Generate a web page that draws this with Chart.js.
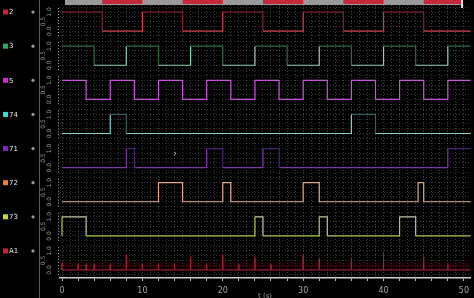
<!DOCTYPE html>
<html>
<head>
<meta charset="utf-8">
<script src="https://cdn.jsdelivr.net/npm/chart.js@4.4.1/dist/chart.umd.min.js"></script>
<style>
  html, body { margin: 0; padding: 0; background: #000; }
  #wrap { width: 474px; height: 298px; }
</style>
</head>
<body>
<div id="wrap"><canvas id="scope"></canvas></div>
<script>
/* ----- channels ----- */
const channelNames = ["2", "3", "5", "74", "71", "72", "73", "A1"];
const squareColors = ["#d8202a", "#20b05c", "#e020e0", "#30dede", "#8a20c8", "#f08020", "#d4d43a", "#d81e28"];
const traceLow = ["#d2404e", "#8fd2b0", "#c458d4", "#86cccc", "#7a3aa6", "#e2aa8a", "#b8c448", "#a82434"];
const traceHigh = ["#7a2230", "#2c6a44", "#c458d4", "#3a6262", "#4a2470", "#e2aa8a", "#c4c4a4", "#a82434"];

/* ----- ticks ----- */
const xTickLabels = [0, 10, 20, 30, 40, 50];
const yTickValues = [0, 0.5, 1];
const yTickLabels = ["0.0", "0.5", "1.0"];

/* ----- waveforms (time, level) ----- */
const ch2Times = [0, 5, 10, 15, 20, 25, 30, 35, 40, 45, 51];
const ch2Levels = [1, 0, 1, 0, 1, 0, 1, 0, 1, 0, 0];

const ch3Times = [0, 4, 8, 12, 16, 20, 24, 28, 32, 36, 40, 44, 48, 51];
const ch3Levels = [1, 0, 1, 0, 1, 0, 1, 0, 1, 0, 1, 0, 1, 1];

const ch5Times = [0, 3, 6, 9, 12, 15, 18, 21, 24, 27, 30, 33, 36, 39, 42, 45, 48, 51];
const ch5Levels = [1, 0, 1, 0, 1, 0, 1, 0, 1, 0, 1, 0, 1, 0, 1, 0, 1, 1];

const ch74Times = [0, 6, 8, 36, 39, 51];
const ch74Levels = [0, 1, 0, 1, 0, 0];

const ch71Times = [0, 8, 9, 18, 20, 25, 27, 48, 51];
const ch71Levels = [0, 1, 0, 1, 0, 1, 0, 1, 1];

const ch72Times = [0, 12, 15, 20, 21, 30, 32, 44.3, 45, 51];
const ch72Levels = [0, 1, 0, 1, 0, 1, 0, 1, 0, 0];

const ch73Times = [0, 0, 3, 24, 25, 32, 33, 42, 44, 51];
const ch73Levels = [0, 1, 0, 1, 0, 1, 0, 1, 0, 0];

const a1Times = [0, 2, 3, 4, 6, 8, 10, 12, 14, 16, 18, 20, 22, 24, 26, 30, 32, 36, 40, 45, 48];
const a1Heights = [0.4, 0.3, 0.3, 0.3, 0.3, 0.8, 0.3, 0.3, 0.3, 0.7, 0.3, 0.8, 0.3, 0.7, 0.3, 0.8, 0.6, 0.6, 0.9, 0.7, 0.3];

const stepTimes = [ch2Times, ch3Times, ch5Times, ch74Times, ch71Times, ch72Times, ch73Times];
const stepLevels = [ch2Levels, ch3Levels, ch5Levels, ch74Levels, ch71Levels, ch72Levels, ch73Levels];

/* ----- datasets ----- */
const datasets = stepTimes.map((times, i) => ({
  data: times.map((t, k) => ({ x: t, y: stepLevels[i][k] })),
  yAxisID: "y" + i,
  stepped: true,
  borderWidth: 1.2,
  pointRadius: 0,
  fill: false,
  borderColor: traceLow[i],
  segment: {
    borderColor: (c) => (c.p0.parsed.y > 0.5 ? traceHigh[i] : traceLow[i]),
  },
}));

const spikeData = [{ x: 0, y: 0 }];
a1Times.forEach((t, k) => {
  spikeData.push({ x: t, y: 0 }, { x: t, y: a1Heights[k] }, { x: t, y: 0 });
});
spikeData.push({ x: 51, y: 0 });

datasets.push({
  data: spikeData,
  yAxisID: "y7",
  borderWidth: 1,
  pointRadius: 0,
  borderColor: traceLow[7],
  fill: { value: 0.4 },
  backgroundColor: "rgba(80, 0, 10, 0.3)",
});

/* ----- scales ----- */
const scales = {
  x: {
    type: "linear",
    min: -0.25,
    max: 50.85,
    afterBuildTicks: (s) => {
      const t = [];
      for (let v = 0; v <= 50; v++) t.push({ value: v });
      s.ticks = t;
    },
    afterFit: (s) => { s.height = 20; },
    ticks: {
      autoSkip: false,
      maxRotation: 0,
      padding: 5,
      color: "#a8a8a8",
      font: { family: "DejaVu Sans", size: 8 },
      callback: (v) => (xTickLabels.includes(v) ? String(v) : ""),
    },
    grid: {
      color: "rgba(150, 150, 150, 0.42)",
      lineWidth: 1,
      tickLength: 3,
      tickColor: (c) => (c.tick && c.tick.value % 2 === 0 ? "#b8b8b8" : "rgba(0,0,0,0)"),
    },
    border: { display: true, color: "#d0d0d0", width: 1.5, dash: [1, 2] },
  },
};

channelNames.forEach((name, i) => {
  scales["y" + i] = {
    type: "linear",
    position: "left",
    stack: "scope",
    stackWeight: 1,
    weight: channelNames.length - i,
    min: -0.42,
    max: 1.37,
    afterBuildTicks: (s) => {
      s.ticks = [-0.25, 0, 0.25, 0.5, 0.75, 1, 1.25].map((v) => ({ value: v }));
    },
    afterFit: (s) => { s.width = 60; },
    ticks: { display: false },
    grid: { color: "rgba(150, 150, 150, 0.35)", drawTicks: false },
    border: { display: false, dash: [1, 2] },
  };
});

/* ----- decorations ----- */
const scopeDecor = {
  id: "scopeDecor",
  beforeDraw(chart) {
    const { ctx, width, height } = chart;
    ctx.save();
    ctx.fillStyle = "#000";
    ctx.fillRect(0, 0, width, height);
    ctx.restore();
  },
  afterDraw(chart) {
    const { ctx } = chart;
    const xs = chart.scales.x;
    ctx.save();

    ctx.strokeStyle = "#5c5c5c";
    ctx.lineWidth = 1;
    ctx.beginPath();
    ctx.moveTo(39.5, 0);
    ctx.lineTo(39.5, chart.height);
    ctx.stroke();

    channelNames.forEach((name, i) => {
      const s = chart.scales["y" + i];
      const yHi = s.getPixelForValue(1);

      ctx.fillStyle = squareColors[i];
      ctx.fillRect(3, yHi - 2.5, 5, 5);
      ctx.fillStyle = "#e6e6e6";
      ctx.font = "7px 'DejaVu Sans'";
      ctx.textAlign = "left";
      ctx.textBaseline = "middle";
      ctx.fillText(name, 9, yHi + 0.5);

      ctx.fillStyle = "#9a9a9a";
      ctx.beginPath();
      ctx.arc(33, yHi, 1.6, 0, Math.PI * 2);
      ctx.fill();

      ctx.fillStyle = "#9c9c9c";
      ctx.font = "6px 'DejaVu Sans'";
      ctx.textAlign = "center";
      yTickValues.forEach((v, k) => {
        ctx.save();
        ctx.translate(v === 0.5 ? 43 : 49, s.getPixelForValue(v));
        ctx.rotate(-Math.PI / 2);
        ctx.fillText(yTickLabels[k], 0, 0);
        ctx.restore();
      });

      ctx.strokeStyle = "#b0b0b0";
      ctx.setLineDash([1, 2]);
      ctx.beginPath();
      ctx.moveTo(58.5, s.top + 3);
      ctx.lineTo(58.5, s.bottom - 3);
      ctx.stroke();
      ctx.setLineDash([]);
    });

    // overview bar on top
    ctx.fillStyle = "#9a9a9a";
    ctx.fillRect(65, 0, 397, 5);
    ctx.fillStyle = "#c4283a";
    ch2Times.forEach((t, k) => {
      if (ch2Levels[k] === 0 && k < ch2Times.length - 1) {
        const a = xs.getPixelForValue(t);
        const b = Math.min(xs.getPixelForValue(ch2Times[k + 1]), 461);
        ctx.fillRect(a, 0, b - a, 4);
      }
    });
    ctx.fillStyle = "#e0e0e0";
    ctx.fillRect(461, 0, 2, 8);

    ctx.fillStyle = "#9a9a9a";
    ctx.font = "7px 'DejaVu Sans'";
    ctx.textAlign = "center";
    ctx.textBaseline = "middle";
    ctx.fillText("t (s)", 265, 296);

    ctx.fillStyle = "#c8c8c8";
    ctx.font = "8px 'DejaVu Sans'";
    ctx.fillText("\u203a", 175, 154);

    ctx.restore();
  },
};

/* ----- chart ----- */
let scopeChart = new Chart("scope", {
  type: "line",
  data: { datasets: datasets },
  options: {
    responsive: true,
    maintainAspectRatio: false,
    animation: false,
    layout: { padding: { top: 5, left: 0, right: 0, bottom: 0 } },
    plugins: { legend: { display: false }, tooltip: { enabled: false } },
    scales: scales,
  },
  plugins: [scopeDecor],
});
</script>
</body>
</html>
